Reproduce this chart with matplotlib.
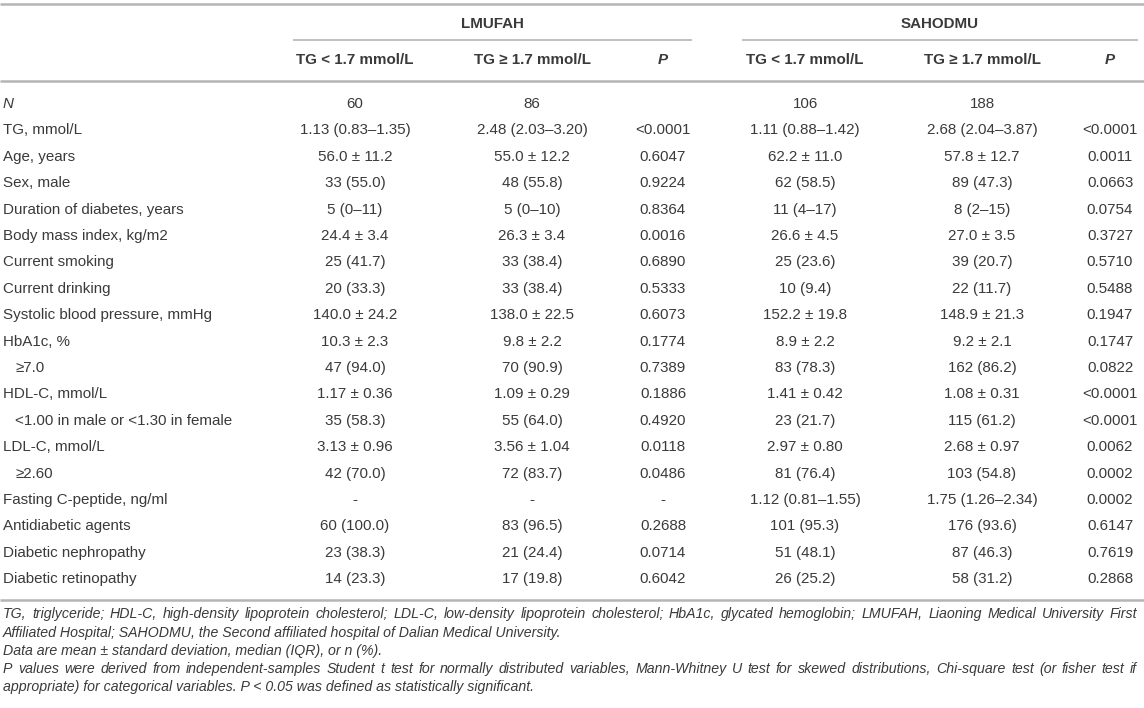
import matplotlib
matplotlib.use("Agg")
import matplotlib.pyplot as plt

labels = ["N", "TG, mmol/L", "Age, years", "Sex, male", "Duration of diabetes, years",
          "Body mass index, kg/m2", "Current smoking", "Current drinking",
          "Systolic blood pressure, mmHg", "HbA1c, %", "≥7.0", "HDL-C, mmol/L",
          "<1.00 in male or <1.30 in female", "LDL-C, mmol/L", "≥2.60",
          "Fasting C-peptide, ng/ml", "Antidiabetic agents", "Diabetic nephropathy",
          "Diabetic retinopathy"]
indented = [False]*10 + [True, False, True, False, True] + [False]*4

lm_low = ["60", "1.13 (0.83–1.35)", "56.0 ± 11.2", "33 (55.0)", "5 (0–11)", "24.4 ± 3.4",
          "25 (41.7)", "20 (33.3)", "140.0 ± 24.2", "10.3 ± 2.3", "47 (94.0)", "1.17 ± 0.36",
          "35 (58.3)", "3.13 ± 0.96", "42 (70.0)", "-", "60 (100.0)", "23 (38.3)", "14 (23.3)"]
lm_high = ["86", "2.48 (2.03–3.20)", "55.0 ± 12.2", "48 (55.8)", "5 (0–10)", "26.3 ± 3.4",
           "33 (38.4)", "33 (38.4)", "138.0 ± 22.5", "9.8 ± 2.2", "70 (90.9)", "1.09 ± 0.29",
           "55 (64.0)", "3.56 ± 1.04", "72 (83.7)", "-", "83 (96.5)", "21 (24.4)", "17 (19.8)"]
lm_p = ["", "<0.0001", "0.6047", "0.9224", "0.8364", "0.0016", "0.6890", "0.5333", "0.6073",
        "0.1774", "0.7389", "0.1886", "0.4920", "0.0118", "0.0486", "-", "0.2688", "0.0714", "0.6042"]
sa_low = ["106", "1.11 (0.88–1.42)", "62.2 ± 11.0", "62 (58.5)", "11 (4–17)", "26.6 ± 4.5",
          "25 (23.6)", "10 (9.4)", "152.2 ± 19.8", "8.9 ± 2.2", "83 (78.3)", "1.41 ± 0.42",
          "23 (21.7)", "2.97 ± 0.80", "81 (76.4)", "1.12 (0.81–1.55)", "101 (95.3)", "51 (48.1)", "26 (25.2)"]
sa_high = ["188", "2.68 (2.04–3.87)", "57.8 ± 12.7", "89 (47.3)", "8 (2–15)", "27.0 ± 3.5",
           "39 (20.7)", "22 (11.7)", "148.9 ± 21.3", "9.2 ± 2.1", "162 (86.2)", "1.08 ± 0.31",
           "115 (61.2)", "2.68 ± 0.97", "103 (54.8)", "1.75 (1.26–2.34)", "176 (93.6)", "87 (46.3)", "58 (31.2)"]
sa_p = ["", "<0.0001", "0.0011", "0.0663", "0.0754", "0.3727", "0.5710", "0.5488", "0.1947",
        "0.1747", "0.0822", "<0.0001", "<0.0001", "0.0062", "0.0002", "0.0002", "0.6147", "0.7619", "0.2868"]

groups = ["LMUFAH", "SAHODMU"]
subheads = ["TG < 1.7 mmol/L", "TG ≥ 1.7 mmol/L", "P"]

footnotes = [
    ("TG, triglyceride; HDL-C, high-density lipoprotein cholesterol; LDL-C, low-density lipoprotein cholesterol; HbA1c, glycated hemoglobin; LMUFAH, Liaoning Medical University First", True),
    ("Affiliated Hospital; SAHODMU, the Second affiliated hospital of Dalian Medical University.", False),
    ("Data are mean ± standard deviation, median (IQR), or n (%).", False),
    ("P values were derived from independent-samples Student t test for normally distributed variables, Mann-Whitney U test for skewed distributions, Chi-square test (or fisher test if", True),
    ("appropriate) for categorical variables. P < 0.05 was defined as statistically significant.", False),
]

W, H = 1144, 708
plt.rcParams['font.family'] = ['Liberation Sans', 'DejaVu Sans']
fig = plt.figure(figsize=(W/100, H/100), dpi=100)
ax = fig.add_axes([0, 0, 1, 1])
ax.set_xlim(0, W)
ax.set_ylim(H, 0)
ax.axis('off')

TXT = '#3a3a3a'
LINE = '#b5b5b5'
FS = 10.9
FFS = 10.2

col_x = [355, 532, 663, 805, 982, 1110]
grp_span = [(293, 692), (742, 1138)]

# rules
ax.plot([0, W], [4, 4], color=LINE, lw=1.8, solid_capstyle='butt')
for (a, b) in grp_span:
    ax.plot([a, b], [39.5, 39.5], color=LINE, lw=1.2, solid_capstyle='butt')
ax.plot([0, W], [81, 81], color=LINE, lw=1.8, solid_capstyle='butt')

# headers
for g, (a, b) in zip(groups, grp_span):
    ax.text((a + b) / 2, 24, g, ha='center', va='center', fontsize=FS, fontweight='bold', color=TXT)
for gi in range(2):
    for si, s in enumerate(subheads):
        x = col_x[gi*3 + si]
        ax.text(x, 60, s, ha='center', va='center', fontsize=FS, fontweight='bold',
                color=TXT, style='italic' if s == 'P' else 'normal')

# body
y0, pitch = 104, 26.4
cols = [lm_low, lm_high, lm_p, sa_low, sa_high, sa_p]
for i, lab in enumerate(labels):
    y = y0 + i * pitch
    ax.text(15 if indented[i] else 3, y, lab, ha='left', va='center', fontsize=FS, color=TXT,
            style='italic' if lab == 'N' else 'normal')
    for x, c in zip(col_x, cols):
        if c[i]:
            ax.text(x, y, c[i], ha='center', va='center', fontsize=FS, color=TXT)

ybot = y0 + (len(labels) - 1) * pitch + 21
ax.plot([0, W], [ybot, ybot], color=LINE, lw=1.8, solid_capstyle='butt')

# footnotes
fig.canvas.draw()
r = fig.canvas.get_renderer()

def width(s):
    t = ax.text(0, 0, s, fontsize=FFS, style='italic')
    bb = t.get_window_extent(renderer=r)
    t.remove()
    return bb.width

fy = [614, 632.5, 651, 669, 687.5]
xl, xr = 3, 1137
for (line, just), y in zip(footnotes, fy):
    if not just:
        ax.text(xl, y, line, ha='left', va='center', fontsize=FFS, style='italic', color=TXT)
    else:
        words = line.split(' ')
        ws = [width(w) for w in words]
        gap = (xr - xl - sum(ws)) / (len(words) - 1)
        x = xl
        for w, wd in zip(words, ws):
            ax.text(x, y, w, ha='left', va='center', fontsize=FFS, style='italic', color=TXT)
            x += wd + gap

fig.savefig('out.png', dpi=100)
